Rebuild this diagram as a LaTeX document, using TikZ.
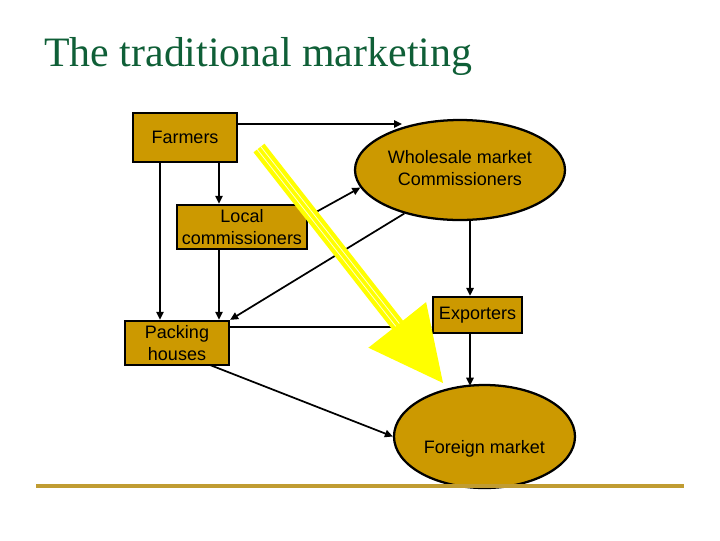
\documentclass[tikz,border=0pt]{standalone}
\usepackage{fontspec}
\setmainfont{Liberation Sans}
\newfontfamily\titlefont{Liberation Serif}
\usetikzlibrary{shapes.geometric,arrows.meta}
\definecolor{boxgold}{RGB}{204,153,0}
\definecolor{titlegreen}{RGB}{15,95,55}
\definecolor{rulegold}{RGB}{192,156,50}
\definecolor{arrowyellow}{RGB}{255,255,0}
\tikzset{
  boxnode/.style={draw=black,line width=1.7pt,fill=boxgold,rectangle,inner sep=0pt,align=center,
    font=\fontsize{13.5}{16.5}\selectfont},
  ellnode/.style={draw=black,line width=1.7pt,fill=boxgold,ellipse,inner sep=0pt},
  elltext/.style={align=center,inner sep=0pt,font=\fontsize{13.5}{16.5}\selectfont},
  conn/.style={line width=1.3pt,-{Triangle[length=6pt,width=5.5pt]}},
}
\begin{document}
\begin{tikzpicture}[x=0.75pt,y=-0.75pt]
\useasboundingbox (0,0) rectangle (720,540);
% title
\node[anchor=base west,inner sep=0pt,text=titlegreen,font=\titlefont\fontsize{31.4}{37}\selectfont] (title) at (44,66) {The traditional marketing};
% nodes
\node[boxnode,minimum width=78pt,minimum height=36.75pt] (F) at (185,137.5) {Farmers};
\node[boxnode,minimum width=97.5pt,minimum height=33pt] (L) at (242,227) {Local\\commissioners};
\node[boxnode,minimum width=78pt,minimum height=33pt] (P) at (177,343) {Packing\\houses};
\node[boxnode,minimum width=66.75pt,minimum height=27pt] (E) at (477.5,315) {Exporters};
\node[ellnode,minimum width=157.5pt,minimum height=75pt] (W) at (460,170) {};
\node[elltext] (Wt) at (460,168) {Wholesale market\\Commissioners};
\node[ellnode,minimum width=135.75pt,minimum height=77.25pt] (FM) at (484.5,436.5) {};
\node[elltext] (FMt) at (484.5,449) {Foreign market};
% helper coordinates
\coordinate (wtip) at (402,124);
\coordinate (x219) at (219,0);
\coordinate (x160) at (160,0);
\coordinate (x470) at (470,0);
\coordinate (lstart) at (307,217);
\coordinate (y327) at (0,327);
\coordinate (pstart) at (210,365);
% connectors
\draw[conn] (F.east |- wtip) -- (wtip);
\draw[conn] (F.south -| x219) -- (L.north -| x219);
\draw[conn] (F.south -| x160) -- (P.north -| x160);
\draw[conn] (L.south -| x219) -- (P.north -| x219);
\draw[conn] (lstart) -- (W.190);
\draw[conn] (W.218.7) -- (P.north east);
\draw[conn] (470,219.5) -- (E.north -| x470);
\draw[conn] (P.east |- y327) -- (E.west |- y327);
\draw[conn] (E.south -| x470) -- (470,385.7);
\draw[conn] (pstart) -- (FM.west);
% bottom rule
\draw[rulegold,line width=2.5pt] (36,486) -- (684,486);
% big yellow arrow
\fill[arrowyellow] (264.5,143.7) -- (403,320.6) -- (426.1,302.1) -- (443,383) -- (368.4,347.7) -- (392,329.2) -- (253.5,152.3) -- cycle;
\draw[white,opacity=0.8,line width=0.6pt] (260.8,146.6) -- (399.3,323.5);
\draw[white,opacity=0.8,line width=0.6pt] (257.2,149.4) -- (395.7,326.3);
\end{tikzpicture}
\end{document}
